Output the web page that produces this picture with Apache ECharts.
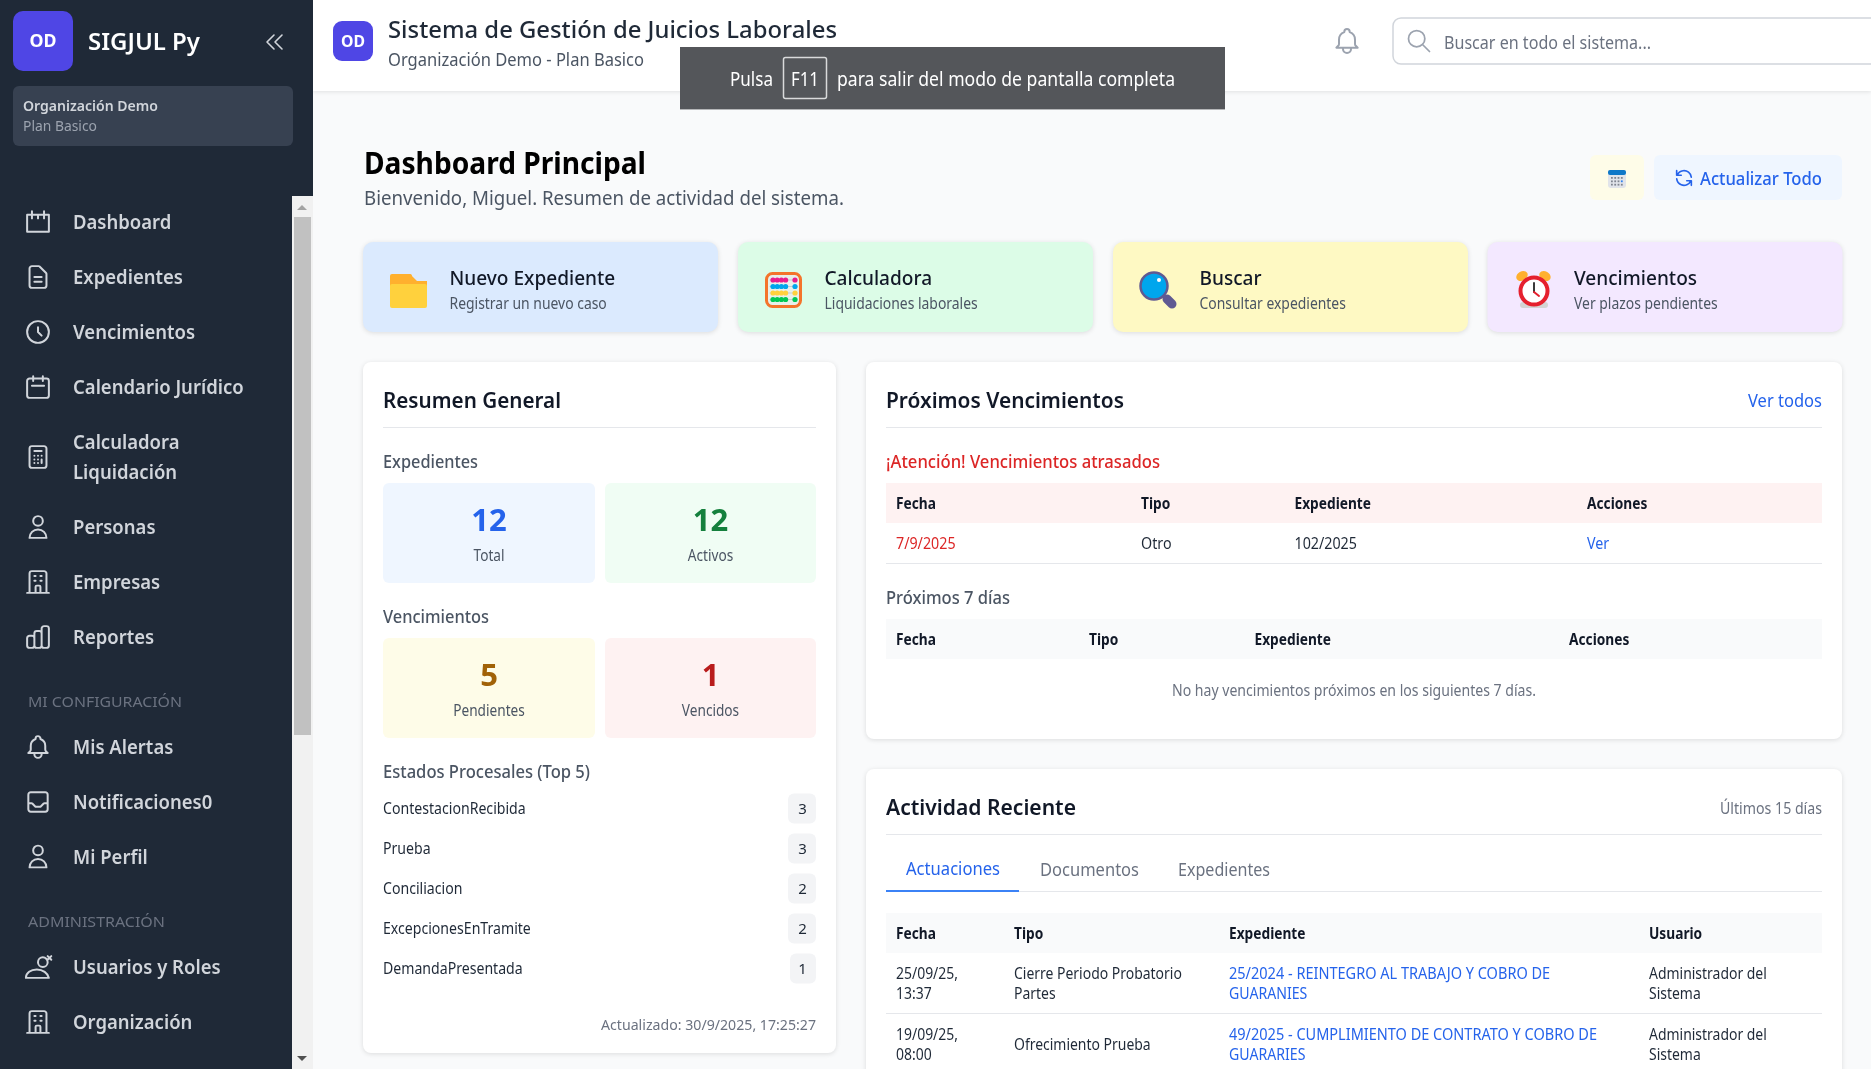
<!DOCTYPE html>
<html>
<head>
<meta charset="utf-8">
<title>Dashboard Principal</title>
<script src="https://cdn.jsdelivr.net/npm/echarts@6/dist/echarts.min.js"></script>
<style>
html, body { margin: 0; padding: 0; background: #f9fafb; overflow: hidden; }
#main { width: 1871px; height: 1069px; }
</style>
</head>
<body>
<div id="main"></div>
<script>
// page content
const navMain = ['Dashboard', 'Expedientes', 'Vencimientos', 'Calendario Jurídico', ['Calculadora', 'Liquidación'], 'Personas', 'Empresas', 'Reportes'];
const navConfig = ['Mis Alertas', 'Notificaciones0', 'Mi Perfil'];
const navAdmin = ['Usuarios y Roles', 'Organización'];
const quickTitles = ['Nuevo Expediente', 'Calculadora', 'Buscar', 'Vencimientos'];
const quickSubs = ['Registrar un nuevo caso', 'Liquidaciones laborales', 'Consultar expedientes', 'Ver plazos pendientes'];
const statLabels = ['Total', 'Activos', 'Pendientes', 'Vencidos'];
const statValues = [12, 12, 5, 1];
const estadoNames = ['ContestacionRecibida', 'Prueba', 'Conciliacion', 'ExcepcionesEnTramite', 'DemandaPresentada'];
const estadoCounts = [3, 3, 2, 2, 1];
const overdueHead = ['Fecha', 'Tipo', 'Expediente', 'Acciones'];
const overdueRow = ['7/9/2025', 'Otro', '102/2025', 'Ver'];
const activityHead = ['Fecha', 'Tipo', 'Expediente', 'Usuario'];
const activityTabs = ['Actuaciones', 'Documentos', 'Expedientes'];
const activityDates = [['25/09/25,', '13:37'], ['19/09/25,', '08:00']];
const activityTypes = [['Cierre Periodo Probatorio', 'Partes'], ['Ofrecimiento Prueba']];
const activityFiles = [['25/2024 - REINTEGRO AL TRABAJO Y COBRO DE', 'GUARANIES'], ['49/2025 - CUMPLIMIENTO DE CONTRATO Y COBRO DE', 'GUARARIES']];
const activityUsers = [['Administrador del', 'Sistema'], ['Administrador del', 'Sistema']];

const FONT = '"Noto Sans", "Open Sans", sans-serif';
const SQUEEZE = 0.94;
const TEXT_DY = 1.3;
const els = [];
const measure = document.createElement('canvas').getContext('2d');

// svg icon paths use compact arc flags, zrender wants them separated
function fixArcs(d) {
    return d.replace(/([aA])([^a-zA-Z]*)/g, function (m, cmd, body) {
        let rest = body, idx = 0;
        const out = [];
        while (rest.trim()) {
            const re = idx % 7 === 3 || idx % 7 === 4 ? /^[\s,]*([01])/ : /^[\s,]*(-?\d*\.?\d+)/;
            const hit = re.exec(rest);
            out.push(hit[1]);
            rest = rest.slice(hit[0].length);
            idx++;
        }
        return cmd + out.join(' ');
    });
}

const iconPaths = {
    board: 'M3 6h18v14H3zM7 3v6M17 3v6M12 6v3',
    doc: 'M9 12h6m-6 4h6m2 5H7a2 2 0 01-2-2V5a2 2 0 012-2h5.586a1 1 0 01.707.293l5.414 5.414a1 1 0 01.293.707V19a2 2 0 01-2 2z',
    clock: 'M12 8v4l3 3m6-3a9 9 0 11-18 0 9 9 0 0118 0z',
    calendar: 'M8 7V3m8 4V3m-9 8h10M5 21h14a2 2 0 002-2V7a2 2 0 00-2-2H5a2 2 0 00-2 2v12a2 2 0 002 2z',
    calc: 'M9 7h6m0 10v-3m-3 3h.01M9 17h.01M9 14h.01M12 14h.01M15 11h.01M12 11h.01M9 11h.01M7 21h10a2 2 0 002-2V5a2 2 0 00-2-2H7a2 2 0 00-2 2v14a2 2 0 002 2z',
    user: 'M16 7a4 4 0 11-8 0 4 4 0 018 0zM12 14a7 7 0 00-7 7h14a7 7 0 00-7-7z',
    building: 'M19 21V5a2 2 0 00-2-2H7a2 2 0 00-2 2v16m14 0h2m-2 0h-5m-9 0H3m2 0h5M9 7h1m-1 4h1m4-4h1m-1 4h1m-5 10v-5a1 1 0 011-1h2a1 1 0 011 1v5m-4 0h4',
    bars: 'M9 19v-6a2 2 0 00-2-2H5a2 2 0 00-2 2v6a2 2 0 002 2h2a2 2 0 002-2zm0 0V9a2 2 0 012-2h2a2 2 0 012 2v10m-6 0a2 2 0 002 2h2a2 2 0 002-2m0 0V5a2 2 0 012-2h2a2 2 0 012 2v14a2 2 0 01-2 2h-2a2 2 0 01-2-2z',
    bell: 'M15 17h5l-1.405-1.405A2.032 2.032 0 0118 14.158V11a6.002 6.002 0 00-4-5.659V5a2 2 0 10-4 0v.341C7.67 6.165 6 8.388 6 11v3.159c0 .538-.214 1.055-.595 1.436L4 17h5m6 0v1a3 3 0 11-6 0v-1m6 0H9',
    inbox: 'M20 13V6a2 2 0 00-2-2H6a2 2 0 00-2 2v7m16 0v5a2 2 0 01-2 2H6a2 2 0 01-2-2v-5m16 0h-2.586a1 1 0 00-.707.293l-2.414 2.414a1 1 0 01-.707.293h-3.172a1 1 0 01-.707-.293l-2.414-2.414A1 1 0 006.586 13H4',
    search: 'M21 21l-6-6m2-5a7 7 0 11-14 0 7 7 0 0114 0z',
    chevrons: 'M11 19l-7-7 7-7m8 14l-7-7 7-7',
    refresh: 'M4 4v5h.582m15.356 2A8.001 8.001 0 004.582 9m0 0H9m11 11v-5h-.581m0 0a8.003 8.003 0 01-15.357-2m15.357 2H15',
    roles: 'M12 8a4 4 0 1 0 8 0a4 4 0 1 0 -8 0M2 21c0-4 4-7 9-7s9 3 10 7zM20 3l3 3M23 3l-3 3'
};
Object.keys(iconPaths).forEach(function (k) {
    echarts.graphic.registerShape('ic_' + k, echarts.graphic.extendPath(fixArcs(iconPaths[k]), {}));
});

function rect(x, y, w, h, fill, r, extra) {
    els.push({ type: 'rect', silent: true, shape: { x: x, y: y, width: w, height: h, r: r || 0 },
        style: Object.assign({ fill: fill }, extra || {}) });
}
function card(x, y, w, h, fill, r) {
    rect(x, y, w, h, fill, r, { shadowBlur: 5, shadowOffsetY: 1, shadowColor: 'rgba(0,0,0,0.12)' });
}
function hline(x1, x2, y, color, lw) {
    rect(x1, y, x2 - x1, lw || 1, color);
}
function circle(cx, cy, r, fill, stroke, lw) {
    els.push({ type: 'circle', silent: true, shape: { cx: cx, cy: cy, r: r },
        style: { fill: fill, stroke: stroke, lineWidth: lw || 0 } });
}
function line(x1, y1, x2, y2, color, lw) {
    els.push({ type: 'line', silent: true, shape: { x1: x1, y1: y1, x2: x2, y2: y2 },
        style: { stroke: color, lineWidth: lw, lineCap: 'round' } });
}
function icon(name, cx, cy, size, color, lw) {
    const s = size / 24;
    els.push({ type: 'ic_' + name, silent: true, x: cx - size / 2, y: cy - size / 2, scaleX: s, scaleY: s,
        style: { fill: 'none', stroke: color, lineWidth: lw || 1.5, lineCap: 'round', lineJoin: 'round' } });
}
// w = width of the text in the reference, the fallback font is wider so it gets squeezed
function T(text, x, y, size, color, opt) {
    opt = opt || {};
    const font = (opt.weight || 400) + ' ' + size + 'px ' + FONT;
    measure.font = font;
    const sx = opt.w ? opt.w / measure.measureText(text).width : (opt.fit || SQUEEZE);
    els.push({ type: 'text', silent: true, x: x, y: y + TEXT_DY, scaleX: sx, style: { text: String(text), x: 0, y: 0, font: font,
        fill: color, align: opt.align || 'left', verticalAlign: 'middle' } });
}

// page + sidebar
rect(0, 0, 1871, 1069, '#f9fafb');
rect(313, 0, 1558, 91, '#ffffff', 0, { shadowBlur: 4, shadowOffsetY: 1, shadowColor: 'rgba(0,0,0,0.1)' });
rect(0, 0, 313, 1069, '#1f2937');
rect(292, 196, 21, 873, '#f1f1f1');
rect(294, 217, 17, 518, '#c1c1c1');
els.push({ type: 'polygon', silent: true, shape: { points: [[297, 210], [307, 210], [302, 205]] }, style: { fill: '#a3a3a3' } });
els.push({ type: 'polygon', silent: true, shape: { points: [[297, 1056], [307, 1056], [302, 1061]] }, style: { fill: '#505050' } });

rect(13, 11, 60, 60, '#4f46e5', 10);
T('OD', 43, 41, 17, '#ffffff', { weight: 700, align: 'center', w: 27 });
T('SIGJUL Py', 88, 42, 24, '#ffffff', { weight: 600, w: 112 });
icon('chevrons', 275, 42, 24, '#d1d5db', 1.6);
rect(13, 86, 280, 60, '#374151', 6);
T('Organización Demo', 23, 105.5, 14, '#d1d5db', { weight: 600, w: 135 });
T('Plan Basico', 23, 125.5, 14, '#9ca3af', { w: 74 });

const NAV_OPT = { weight: 600, fit: 0.925 };
const mainIcons = ['board', 'doc', 'clock', 'calendar', 'calc', 'user', 'building', 'bars'];
const mainY = [222, 277, 332, 387, 457, 527, 582, 637];
navMain.forEach(function (label, i) {
    icon(mainIcons[i], 38, mainY[i], 29, '#d1d5db', 1.65);
    if (Array.isArray(label)) {
        T(label[0], 73, mainY[i] - 15.5, 20, '#d1d5db', NAV_OPT);
        T(label[1], 73, mainY[i] + 15, 20, '#d1d5db', NAV_OPT);
    } else {
        T(label, 73, mainY[i], 20, '#d1d5db', NAV_OPT);
    }
});
T('MI CONFIGURACIÓN', 28, 701.5, 15, '#6b7280', { w: 154 });
const configIcons = ['bell', 'inbox', 'user'];
const configY = [747, 802, 856.5];
navConfig.forEach(function (label, i) {
    icon(configIcons[i], 38, configY[i], 29, '#d1d5db', 1.65);
    T(label, 73, configY[i], 20, '#d1d5db', NAV_OPT);
});
T('ADMINISTRACIÓN', 28, 921.5, 15, '#6b7280', { w: 137 });
const adminIcons = ['roles', 'building'];
const adminY = [967, 1022];
navAdmin.forEach(function (label, i) {
    icon(adminIcons[i], 38, adminY[i], 29, '#d1d5db', 1.65);
    T(label, 73, adminY[i], 20, '#d1d5db', NAV_OPT);
});

// top bar
rect(333, 21, 40, 40, '#4f46e5', 9);
T('OD', 353, 41, 16, '#ffffff', { weight: 700, align: 'center', w: 24 });
T('Sistema de Gestión de Juicios Laborales', 388, 30, 24, '#1f2937', { weight: 500, w: 449 });
T('Organización Demo - Plan Basico', 388, 60, 18, '#4b5563', { w: 256 });
icon('bell', 1347, 41, 32, '#9ca3af', 1.5);
rect(1393, 18, 490, 46, '#ffffff', 8, { stroke: '#d1d5db', lineWidth: 1.5 });
icon('search', 1419, 41, 28, '#9ca3af', 1.5);
T('Buscar en todo el sistema...', 1444, 43, 17.5, '#6b7280', { w: 207 });

// fullscreen notice
rect(680, 47, 545, 63, '#54565a');
hline(680, 1225, 109, '#b5b6b8', 1);
T('Pulsa', 730, 79, 19, '#ffffff', { w: 43 });
rect(783.5, 57.5, 43, 41, 'none', 2, { stroke: '#d9dadb', lineWidth: 1.5 });
T('F11', 805, 79, 19, '#ffffff', { align: 'center', w: 28 });
T('para salir del modo de pantalla completa', 837, 79, 19, '#ffffff', { w: 338 });

// page title
T('Dashboard Principal', 364, 164, 30, '#000000', { weight: 700, w: 282 });
T('Bienvenido, Miguel. Resumen de actividad del sistema.', 364, 198, 20, '#4b5563', { w: 480 });
rect(1590, 155, 54, 45, '#fefce8', 6);
rect(1608, 170, 18, 18, '#e1e4ea', 3);
rect(1608, 170, 18, 5, '#0f78c8', 2);
[0, 1, 2].forEach(function (r) {
    [0, 1, 2, 3].forEach(function (c) {
        rect(1611 + c * 3.3, 177 + r * 3.4, 1.8, 1.8, r === 1 && c === 3 ? '#2f80ed' : '#808590');
    });
});
rect(1654, 155, 188, 45, '#eff6ff', 6);
icon('refresh', 1684, 178, 22, '#2563eb', 1.8);
T('Actualizar Todo', 1700, 179, 18, '#2563eb', { weight: 500, w: 122 });

// quick access cards
const quickX = [363, 738, 1113, 1487.5];
const quickFill = ['#dbeafe', '#dcfce7', '#fef9c3', '#f3e8ff'];
quickTitles.forEach(function (title, i) {
    card(quickX[i], 242, 355, 90, quickFill[i], 10);
    T(title, quickX[i] + 86.5, 278, 20.5, '#111827', { weight: 500, fit: 0.93 });
    T(quickSubs[i], quickX[i] + 86.5, 303, 16, '#4b5563', { fit: 0.87 });
});
// folder
rect(390, 274, 22, 14, '#ffb02e', 2);
els.push({ type: 'polygon', silent: true, shape: { points: [[405, 274], [410, 274], [417, 281], [427, 281], [427, 288], [405, 288]] }, style: { fill: '#ffb02e' } });
rect(390, 284, 37, 24, '#ffd13d', 2);
// abacus
rect(766.5, 273.5, 34, 33, '#e8f0ea', 6, { stroke: '#f4742b', lineWidth: 3 });
const beadColors = ['#e91e8c', '#00a6ed', '#ffd13d', '#00c853'];
beadColors.forEach(function (col, r) {
    const y = 280 + r * 6.5;
    line(770, y, 797, y, '#c8ccd0', 1);
    [0, 1, 2, 3].forEach(function (b) { circle(773 + b * 4.2, y, 2.6, col); });
    circle(795, y, 2.6, col);
});
// magnifier
line(1167, 299, 1172, 304, '#5f5a92', 9);
circle(1154, 286, 13.5, '#00a6ed', '#5f5a92', 2.5);
circle(1159, 280, 2, '#ffffff');
// alarm clock
els.push({ type: 'ellipse', silent: true, shape: { cx: 1522, cy: 276, rx: 6, ry: 4.5 }, rotation: 0.5, originX: 1522, originY: 276, style: { fill: '#ffb02e' } });
els.push({ type: 'ellipse', silent: true, shape: { cx: 1545, cy: 276, rx: 6, ry: 4.5 }, rotation: -0.5, originX: 1545, originY: 276, style: { fill: '#ffb02e' } });
rect(1520, 302, 28, 6, '#d3d3d3', 3);
circle(1534, 291, 13.5, '#ffffff', '#e5202e', 4);
line(1534, 283, 1534, 292, '#3a3a3a', 2);
line(1534, 292, 1539, 296, '#e5202e', 2);

// Resumen General
card(363, 362, 473, 691, '#ffffff', 8);
T('Resumen General', 383, 400, 22, '#111827', { weight: 600, w: 178 });
hline(383, 816, 427, '#e5e7eb');
T('Expedientes', 383, 462, 17.5, '#4b5563', { weight: 500, w: 95 });
T('Vencimientos', 383, 617, 17.5, '#4b5563', { weight: 500, w: 106 });
const statX = [383, 605, 383, 605];
const statY = [483, 483, 638, 638];
const statFill = ['#eff6ff', '#f0fdf4', '#fefce8', '#fef2f2'];
const statColor = ['#2563eb', '#15803d', '#a16207', '#b91c1c'];
statValues.forEach(function (v, i) {
    const w = i % 2 ? 211 : 212;
    rect(statX[i], statY[i], w, 100, statFill[i], 6);
    T(v, statX[i] + w / 2, statY[i] + 38, 31, statColor[i], { weight: 700, align: 'center', fit: 1 });
    T(statLabels[i], statX[i] + w / 2, statY[i] + 72.5, 15.5, '#4b5563', { align: 'center', fit: 0.88 });
});
T('Estados Procesales (Top 5)', 383, 772, 17.5, '#4b5563', { weight: 500, w: 207 });
estadoNames.forEach(function (name, i) {
    const y = 808.5 + i * 40;
    const bw = estadoCounts[i] === 1 ? 26 : 28;
    T(name, 383, y, 15.5, '#1f2937', { fit: 0.91 });
    rect(816 - bw, y - 15, bw, 30, '#f3f4f6', 6);
    T(estadoCounts[i], 802.5, y, 15, '#1f2937', { align: 'center', fit: 1 });
});
T('Actualizado: 30/9/2025, 17:25:27', 816, 1024, 15, '#6b7280', { align: 'right', w: 215 });

// Proximos Vencimientos
const HEAD_OPT = { weight: 700, fit: 0.885 };
card(866, 362, 976, 377, '#ffffff', 8);
T('Próximos Vencimientos', 886, 400, 22, '#111827', { weight: 600, w: 238 });
T('Ver todos', 1822, 401, 18, '#2563eb', { align: 'right', w: 74 });
hline(886, 1822, 427, '#e5e7eb');
T('¡Atención! Vencimientos atrasados', 886, 462, 17.5, '#dc2626', { weight: 500, w: 274 });
rect(886, 483, 936, 40, '#fef2f2');
const overdueX = [896, 1141, 1294.5, 1587];
const overdueColor = ['#dc2626', '#1f2937', '#1f2937', '#2563eb'];
overdueHead.forEach(function (h, i) {
    T(h, overdueX[i], 503.5, 15.5, '#111827', HEAD_OPT);
    T(overdueRow[i], overdueX[i], 543.5, 15.5, overdueColor[i], { fit: 0.92 });
});
hline(886, 1822, 563, '#e5e7eb');
T('Próximos 7 días', 886, 598, 17.5, '#4b5563', { weight: 500, w: 124 });
rect(886, 619, 936, 40, '#f9fafb');
const soonX = [896, 1089, 1254.5, 1569];
overdueHead.forEach(function (h, i) {
    T(h, soonX[i], 639.5, 15.5, '#111827', HEAD_OPT);
});
T('No hay vencimientos próximos en los siguientes 7 días.', 1354, 690, 15.5, '#6b7280', { align: 'center', w: 364 });

// Actividad Reciente
card(866, 769, 976, 320, '#ffffff', 8);
T('Actividad Reciente', 886, 807, 22, '#111827', { weight: 600, w: 190 });
T('Últimos 15 días', 1822, 808, 15.5, '#6b7280', { align: 'right', w: 102 });
hline(886, 1822, 834, '#e5e7eb');
hline(886, 1822, 891, '#e5e7eb', 1);
const tabX = [906, 1040, 1178];
const tabW = [94, 99, 92];
activityTabs.forEach(function (t, i) {
    T(t, tabX[i], i ? 870 : 869, 17.5, i ? '#6b7280' : '#2563eb', { w: tabW[i] });
});
hline(886, 1019, 890, '#3b82f6', 2);
rect(886, 913, 936, 40, '#f9fafb');
const actX = [896, 1014, 1229, 1649];
activityHead.forEach(function (h, i) {
    T(h, actX[i], 933.5, 15.5, '#111827', HEAD_OPT);
});
hline(886, 1822, 1013, '#e5e7eb');
const rowMid = [983.5, 1044.5];
function cell(lines, x, mid, color, fits) {
    lines.forEach(function (s, k) {
        T(s, x, mid + (k - (lines.length - 1) / 2) * 20, 15.5, color, { fit: fits ? fits[k] : 0.9 });
    });
}
rowMid.forEach(function (mid, r) {
    cell(activityDates[r], actX[0], mid, '#1f2937');
    cell(activityTypes[r], actX[1], mid, '#1f2937');
    cell(activityFiles[r], actX[2], mid, '#2563eb', [0.936, 0.91]);
    cell(activityUsers[r], actX[3], mid, '#1f2937');
});

const chart = echarts.init(document.getElementById('main'));
chart.setOption({ animation: false, graphic: { elements: els } });
</script>
</body>
</html>
